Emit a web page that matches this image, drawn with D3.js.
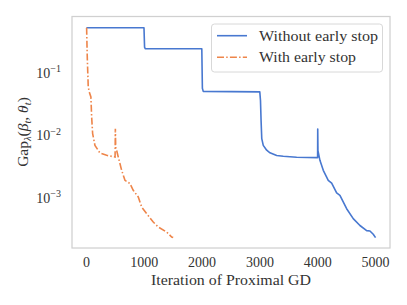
<!DOCTYPE html>
<html><head><meta charset="utf-8">
<script src="https://cdn.jsdelivr.net/npm/d3@7"></script>
<style>body{margin:0;background:#fff}svg{display:block}text{font-family:"Liberation Serif","DejaVu Serif",serif;fill:#333}</style>
</head><body>
<script>
const blueIter = [0,995,1005,1015,1995,2005,2020,2998,3010,3020,3032,3058,3117,3174,3290,3404,3635,3998,4000,4004,4038,4096,4182,4241,4327,4384,4500,4614,4730,4846,4903,4960,5000];
const blueGap  = [0.51,0.51,0.25,0.237,0.236,0.055,0.049,0.048,0.035,0.0169,0.0086,0.0067,0.0056,0.0051,0.0046,0.00448,0.00432,0.00427,0.0122,0.0055,0.00386,0.00267,0.00185,0.00167,0.00116,0.00106,0.00065,0.00045,0.00035,0.00029,0.000286,0.000253,0.000224];
const orangeIter = [0,3,10,14,31,48,77,90,107,147,233,349,495,500,506,522,550,609,666,752,809,896,955,1041,1155,1242,1387,1474,1500];
const orangeGap  = [0.51,0.5,0.25,0.174,0.0575,0.0479,0.04,0.019,0.0103,0.0067,0.00506,0.00464,0.00436,0.0124,0.0062,0.00558,0.00436,0.00267,0.00185,0.00164,0.00128,0.001,0.00069,0.000542,0.000398,0.000331,0.000275,0.000229,0.000224];
const xTicks = [0,1000,2000,3000,4000,5000];
const yTickExp = [-1,-2,-3];
const seriesNames = ["Without early stop","With early stop"];
const colors = ["#4878d0","#ee854a"];

const W=407,H=305;
const L=72,R=390,T=16.5,B=248;
const svg=d3.select("body").append("svg").attr("width",W).attr("height",H);
const x=d3.scaleLinear().domain([-250,5250]).range([L,R]);
const y=d3.scaleLog().domain([Math.pow(10,-3.816),Math.pow(10,-0.112)]).range([B,T]);

const blue=blueIter.map((d,i)=>[d,blueGap[i]]);
const orange=orangeIter.map((d,i)=>[d,orangeGap[i]]);
const line=d3.line().x(d=>x(d[0])).y(d=>y(d[1]));
const dash="7,2.2,1.5,2.2";

svg.append("path").datum(blue).attr("d",line).attr("fill","none").attr("stroke",colors[0]).attr("stroke-width",1.6).attr("stroke-linejoin","round");
svg.append("path").datum(orange).attr("d",line).attr("fill","none").attr("stroke",colors[1]).attr("stroke-width",1.6).attr("stroke-dasharray",dash);

// frame
svg.append("rect").attr("x",L).attr("y",T).attr("width",R-L).attr("height",B-T).attr("fill","none").attr("stroke","#d0d0d0").attr("stroke-width",1.25);

// x ticks
const xa=svg.append("g");
xTicks.forEach(t=>{
  xa.append("text").attr("x",x(t)).attr("y",267).attr("text-anchor","middle").attr("font-size",14).text(t);
});
svg.append("text").attr("x",(L+R)/2).attr("y",285).attr("text-anchor","middle").attr("font-size",15)
  .attr("textLength",160).attr("lengthAdjust","spacingAndGlyphs").text("Iteration of Proximal GD");

// y ticks
yTickExp.forEach(e=>{
  const t=svg.append("text").attr("x",61).attr("y",y(Math.pow(10,e))+5.5).attr("text-anchor","end").attr("font-size",14);
  t.append("tspan").text("10");
  t.append("tspan").attr("dy",-5.5).attr("font-size",10).text("\u2212"+(-e));
});

// y label
const yl=svg.append("text").attr("transform","translate(28,132) rotate(-90)").attr("text-anchor","middle").attr("font-size",15.5);
yl.append("tspan").text("Gap");
yl.append("tspan").attr("dy",3).attr("font-size",10.5).attr("font-style","italic").text("λ");
yl.append("tspan").attr("dy",-3).text("(");
yl.append("tspan").attr("font-style","italic").text("β");
yl.append("tspan").attr("dy",3).attr("font-size",10.5).attr("font-style","italic").text("t");
yl.append("tspan").attr("dy",-3).text(", ");
yl.append("tspan").attr("font-style","italic").text("θ");
yl.append("tspan").attr("dy",3).attr("font-size",10.5).attr("font-style","italic").text("t");
yl.append("tspan").attr("dy",-3).text(")");

// legend
const lg=svg.append("g");
lg.append("rect").attr("x",211.5).attr("y",24).attr("width",171).attr("height",48).attr("rx",3).attr("fill","#fff").attr("fill-opacity",0.8).attr("stroke","#d8d8d8").attr("stroke-width",1);
seriesNames.forEach((n,i)=>{
  const yy=35.7+i*21.6;
  lg.append("line").attr("x1",217).attr("x2",247).attr("y1",yy).attr("y2",yy).attr("stroke",colors[i]).attr("stroke-width",1.6).attr("stroke-dasharray",i?dash:null);
  lg.append("text").attr("x",259).attr("y",yy+5).attr("font-size",15).attr("textLength",i?97:119).attr("lengthAdjust","spacingAndGlyphs").text(n);
});
</script>
</body></html>
